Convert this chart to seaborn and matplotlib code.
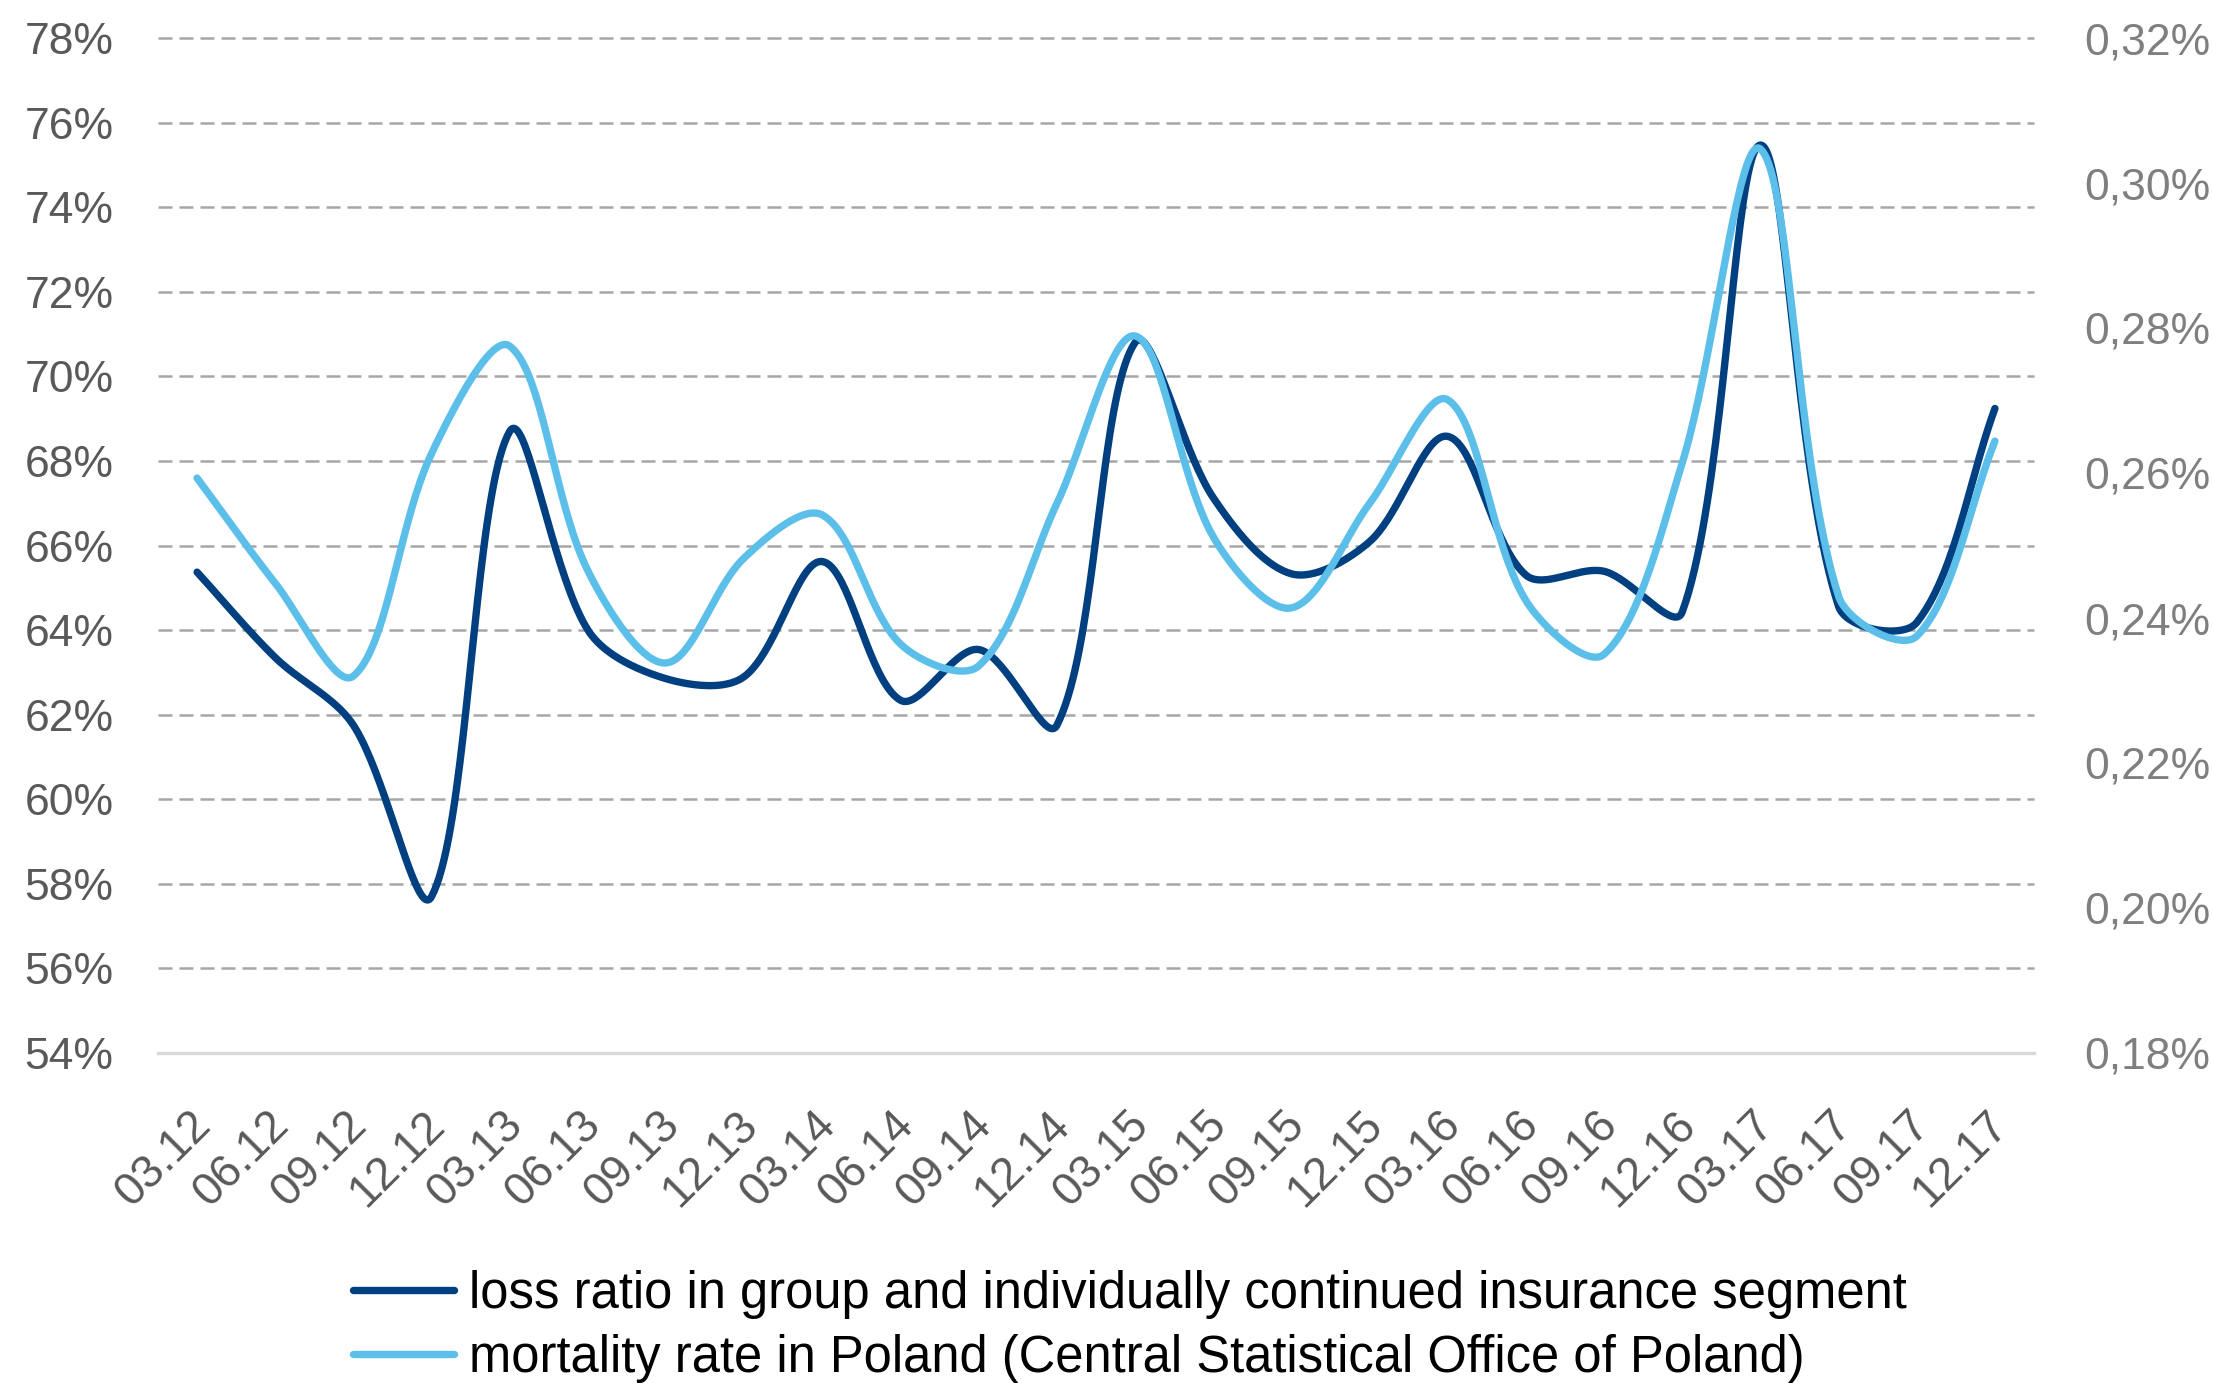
import numpy as np
import matplotlib
matplotlib.use("Agg")
import matplotlib.pyplot as plt
import matplotlib.transforms as mtransforms
from matplotlib.lines import Line2D
import seaborn as sns

# ---- data ----
periods = ["03.12", "06.12", "09.12", "12.12", "03.13", "06.13", "09.13", "12.13",
           "03.14", "06.14", "09.14", "12.14", "03.15", "06.15", "09.15", "12.15",
           "03.16", "06.16", "09.16", "12.16", "03.17", "06.17", "09.17", "12.17"]
loss_ratio = [65.37, 63.35, 61.75, 57.7, 68.7, 64.0, 62.85, 62.9,
              65.62, 62.34, 63.54, 61.75, 70.8, 67.13, 65.33, 66.09,
              68.58, 65.3, 65.39, 64.43, 75.47, 64.56, 64.18, 69.24]
mortality = [0.2593, 0.2448, 0.2320, 0.2627, 0.2775, 0.2465, 0.2338, 0.2483,
             0.2542, 0.2364, 0.2334, 0.2558, 0.2789, 0.2512, 0.2414, 0.2558,
             0.2701, 0.2424, 0.2350, 0.2614, 0.3047, 0.2430, 0.2375, 0.2644]
left_ticks = [54, 56, 58, 60, 62, 64, 66, 68, 70, 72, 74, 76, 78]
right_ticks = [0.18, 0.20, 0.22, 0.24, 0.26, 0.28, 0.30, 0.32]
labels = ["loss ratio in group and individually continued insurance segment",
          "mortality rate in Poland (Central Statistical Office of Poland)"]

DARK = "#003F80"
LIGHT = "#5BBFEA"

W, H = 2213, 1383
L, R, T, B = 158, 2034, 38, 1053


def smooth(vals, xscale, yscale, n=40):
    """Excel-like smoothed line: cubic Bezier through the points, tangents scaled
    by chord lengths measured in screen units."""
    y = np.asarray(vals, dtype=float)
    pts = np.column_stack([np.arange(len(y)) * xscale, y * yscale])
    N = len(pts)
    d = np.linalg.norm(np.diff(pts, axis=0), axis=1)
    t = np.linspace(0, 1, n, endpoint=False)[:, None]
    out = []
    for i in range(N - 1):
        p1, p2 = pts[i], pts[i + 1]
        p0 = pts[i - 1] if i > 0 else p1
        p3 = pts[i + 2] if i + 2 < N else p2
        dprev = d[i - 1] if i > 0 else 0.0
        dnext = d[i + 1] if i + 2 < N else 0.0
        c1 = p1 + (p2 - p0) * d[i] / (dprev + d[i]) / 3.0
        c2 = p2 - (p3 - p1) * d[i] / (d[i] + dnext) / 3.0
        seg = (1 - t) ** 3 * p1 + 3 * (1 - t) ** 2 * t * c1 + 3 * (1 - t) * t ** 2 * c2 + t ** 3 * p2
        out.append(seg)
    out.append(pts[-1][None, :])
    out = np.vstack(out)
    return out[:, 0] / xscale, out[:, 1] / yscale


sns.set_theme(style="white")
plt.rcParams["font.family"] = ["Liberation Sans", "DejaVu Sans"]

fig = plt.figure(figsize=(W / 100, H / 100), dpi=100)
ax = fig.add_axes([L / W, 1 - B / H, (R - L) / W, (B - T) / H])
ax2 = ax.twinx()

xpx = (R - L) / len(periods)          # pixels per category
ypx_left = (B - T) / (78 - 54)        # pixels per percent (left)
ypx_right = (B - T) / (0.32 - 0.18)   # pixels per percent (right)

# gridlines
for v in left_ticks[1:]:
    ax.axhline(v, color="#A6A6A6", lw=1.8, ls=(0, (5.6, 2.8)), clip_on=False, zorder=0)

xd, yd = smooth(loss_ratio, xpx, ypx_left)
sns.lineplot(x=xd, y=yd, ax=ax, color=DARK, lw=5.3, sort=False, estimator=None,
             solid_capstyle="round", zorder=3)
xl, yl = smooth(mortality, xpx, ypx_right)
sns.lineplot(x=xl, y=yl, ax=ax2, color=LIGHT, lw=5.3, sort=False, estimator=None,
             solid_capstyle="round", zorder=3)

ax.set_xlim(-0.5, len(periods) - 0.5)
ax.set_ylim(54, 78)
ax2.set_ylim(0.18, 0.32)

ax.set_yticks(left_ticks)
ax.set_yticklabels([f"{v}%" for v in left_ticks])
ax2.set_yticks(right_ticks)
ax2.set_yticklabels([f"{v:.2f}%".replace(".", ",") for v in right_ticks])

ax.set_xticks(range(len(periods)))
ax.set_xticklabels(periods, rotation=45, ha="right", rotation_mode="anchor")

ax.tick_params(axis="y", length=0, pad=32, labelsize=32, labelcolor="#595959")
ax2.tick_params(axis="y", length=0, pad=36, labelsize=32, labelcolor="#7F7F7F")
ax.tick_params(axis="x", length=0, pad=36, labelsize=33, labelcolor="#595959")
offset = mtransforms.ScaledTranslation(-9 / 100, 0, fig.dpi_scale_trans)
for lab in ax.get_xticklabels():
    lab.set_transform(lab.get_transform() + offset)

for a in (ax, ax2):
    for s in ("left", "right", "top", "bottom"):
        a.spines[s].set_visible(False)
    a.set_xlabel("")
    a.set_ylabel("")
    a.grid(False)
ax.spines["bottom"].set_visible(True)
ax.spines["bottom"].set_color("#D9D9D9")
ax.spines["bottom"].set_linewidth(2.4)
ax.patch.set_visible(False)

handles = [Line2D([0], [0], color=DARK, lw=5.3), Line2D([0], [0], color=LIGHT, lw=5.3)]
leg = fig.legend(handles, labels, loc="upper left", bbox_to_anchor=(353 / W, 1 - 1270 / H),
                 frameon=False, fontsize=36.5, handlelength=2.0, handletextpad=0.28,
                 borderpad=0, borderaxespad=0, labelspacing=0.29)
for txt in leg.get_texts():
    txt.set_color("black")

fig.savefig("out.png", dpi=100)
